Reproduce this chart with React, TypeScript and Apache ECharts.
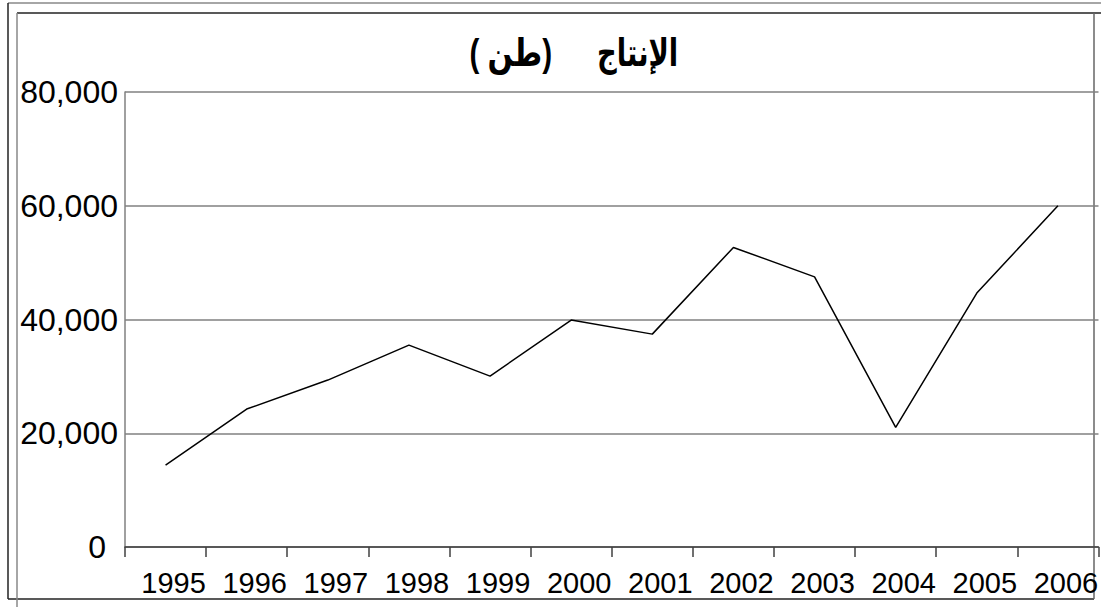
import React, { useEffect, useRef } from "react";
import * as echarts from "echarts";

const years = ["1995", "1996", "1997", "1998", "1999", "2000", "2001", "2002", "2003", "2004", "2005", "2006"];
const production = [14400, 24250, 29350, 35500, 30050, 39900, 37430, 52670, 47500, 21040, 44640, 60000];
const titleUnit = "( طن)";
const titleMain = "الإنتاج";

export default function App() {
  const ref = useRef<HTMLDivElement>(null);
  useEffect(() => {
    if (!ref.current) return;
    const chart = echarts.init(ref.current, undefined, { renderer: "svg" });
    const font = "'Liberation Sans', Arial, 'DejaVu Sans', sans-serif";
    chart.setOption({
      animation: false,
      backgroundColor: "#ffffff",
      grid: { left: 125, top: 92, bottom: 60, right: -2, containLabel: false },
      xAxis: {
        type: "category",
        data: years,
        boundaryGap: true,
        axisLine: { show: true, lineStyle: { color: "#404040", width: 1.5 } },
        axisTick: { show: true, length: 10, alignWithLabel: false, interval: 0, lineStyle: { color: "#404040", width: 1.5 } },
        axisLabel: {
          interval: 0,
          margin: 21,
          color: "#000",
          fontSize: 29,
          fontFamily: font,
          padding: [0, 0, 0, 16],
        },
        splitLine: { show: false },
      },
      yAxis: {
        type: "value",
        min: 0,
        max: 80000,
        interval: 20000,
        axisLine: { show: true, lineStyle: { color: "#808080", width: 1.5 } },
        axisTick: { show: false },
        splitLine: { show: true, lineStyle: { color: "#808080", width: 1.5 } },
        axisLabel: {
          margin: 7,
          color: "#000",
          fontSize: 32,
          fontFamily: font,
          formatter: (v: number) => (v === 0 ? "{z|0}" : v.toLocaleString("en-US")),
          rich: {
            z: { fontSize: 32, fontFamily: font, color: "#000", padding: [0, 12, 0, 0] },
          },
        },
      },
      series: [
        {
          type: "line",
          data: production,
          showSymbol: false,
          symbol: "none",
          lineStyle: { color: "#000", width: 1.5 },
          itemStyle: { color: "#000" },
        },
      ],
      graphic: [
        { type: "line", shape: { x1: 8, y1: 3, x2: 1101, y2: 3 }, style: { stroke: "#888", lineWidth: 1.5 } },
        { type: "line", shape: { x1: 8, y1: 3, x2: 8, y2: 599 }, style: { stroke: "#222", lineWidth: 1.5 } },
        { type: "line", shape: { x1: 8, y1: 599, x2: 1094, y2: 599 }, style: { stroke: "#222", lineWidth: 1.5 } },
        { type: "line", shape: { x1: 17, y1: 13, x2: 1101, y2: 13 }, style: { stroke: "#222", lineWidth: 1.5 } },
        { type: "line", shape: { x1: 17, y1: 13, x2: 17, y2: 607 }, style: { stroke: "#888", lineWidth: 1.5 } },
        { type: "line", shape: { x1: 1094, y1: 13, x2: 1094, y2: 599 }, style: { stroke: "#666", lineWidth: 1.5 } },
        {
          type: "text",
          x: 552,
          y: 53,
          scaleX: 0.78,
          style: { text: titleUnit, fontSize: 38, fontWeight: "bold", fontFamily: font, fill: "#000", align: "right", verticalAlign: "middle" },
        },
        {
          type: "text",
          x: 597,
          y: 53,
          scaleX: 0.72,
          style: { text: titleMain, fontSize: 38, fontWeight: "bold", fontFamily: font, fill: "#000", align: "left", verticalAlign: "middle" },
        },
      ],
    });
    return () => chart.dispose();
  }, []);
  return <div ref={ref} style={{ position: "fixed", left: 0, top: 0, width: 1101, height: 607 }} />;
}
